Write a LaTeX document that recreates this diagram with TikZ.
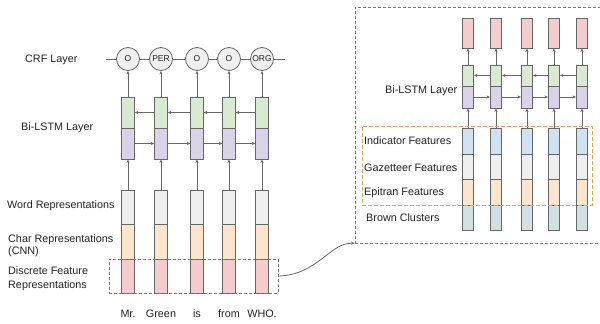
\documentclass[tikz,border=0pt]{standalone}
\usepackage{fontspec}
\setmainfont{Liberation Sans}
\usetikzlibrary{arrows.meta}
\definecolor{cgreen}{HTML}{D9EAD3}
\definecolor{cpurple}{HTML}{D9D2E9}
\definecolor{cgray}{HTML}{EFEFEF}
\definecolor{corange}{HTML}{FCE5CD}
\definecolor{cpink}{HTML}{F4CCCC}
\definecolor{cblue}{HTML}{CFE2F3}
\definecolor{cteal}{HTML}{D0E0E3}
\definecolor{cborder}{HTML}{666666}
\definecolor{carrow}{HTML}{666666}
\definecolor{cdash}{HTML}{777777}
\definecolor{cdasho}{HTML}{F0A050}
\definecolor{ctext}{HTML}{222222}
\begin{document}
\begin{tikzpicture}[x=1pt,y=-1pt,
  cell/.style={draw=cborder, line width=0.9pt, minimum width=12.5pt, minimum height=#1, inner sep=0pt, anchor=center},
  rcell/.style={draw=cborder, line width=0.9pt, minimum width=11pt, minimum height=#1, inner sep=0pt, anchor=center},
  lbl/.style={font=\fontsize{10.8}{13}\selectfont, inner sep=0pt, anchor=west, text=ctext, align=left},
  word/.style={font=\fontsize{10.8}{13}\selectfont, inner sep=0pt, anchor=base, text=ctext},
  crf/.style={circle, draw=cborder, line width=0.8pt, fill=cgray, minimum size=23pt, inner sep=0pt, font=\fontsize{8.5}{10}\selectfont, text=ctext},
  arr/.style={draw=carrow, line width=0.8pt, -{Stealth[length=3.5pt,width=3pt]}},
  plain/.style={draw=carrow, line width=0.8pt},
  gbox/.style={draw=cdash, line width=0.8pt, dash pattern=on 3pt off 2pt, inner sep=0pt},
  obox/.style={draw=cdasho, line width=0.9pt, dash pattern=on 4pt off 2pt, inner sep=0pt}
]
\useasboundingbox (0,0) rectangle (600,324);

% ---------- left panel ----------
\foreach \x/\t [count=\i] in {128/O,161/PER,197/O,229/O,262/ORG}{
  \node[crf] (o\i) at (\x,59) {\t};
  \node[cell=31pt, fill=cgreen] (g\i) at (\x,112.5) {};
  \node[cell=31pt, fill=cpurple] (p\i) at (\x,143.5) {};
  \node[cell=34pt, fill=cgray] (w\i) at (\x,207) {};
  \node[cell=35pt, fill=corange] (c\i) at (\x,241.5) {};
  \node[cell=34pt, fill=cpink] (d\i) at (\x,276) {};
  \draw[arr] (g\i.north) -- (o\i.south);
  \draw[arr] (w\i.north) -- (p\i.south);
}
\foreach \x/\w [count=\i] in {128/Mr.,161/Green,197/is,229/from,262/WHO.}{
  \node[word] (t\i) at (\x,317.5) {\w};
}
\coordinate (crfL) at (106,59);
\coordinate (crfR) at (285,59);
\draw[plain] (crfL) -- (o1.west);
\draw[plain] (o5.east) -- (crfR);
\foreach \i [evaluate=\i as \j using int(\i+1)] in {1,...,4}{
  \draw[plain] (o\i.east) -- (o\j.west);
  \draw[arr] (g\j.west) -- (g\i.east);
  \draw[arr] (p\i.east) -- (p\j.west);
}

\node[lbl] (lcrf) at (25,60) {CRF Layer};
\node[lbl] (llstm) at (21,128) {Bi-LSTM Layer};
\node[lbl] (lword) at (7,206) {Word Representations};
\node[lbl] (lchar) at (8,245.5) {Char Representations\\[-0.5pt](CNN)};
\node[lbl] (ldisc) at (8,279) {Discrete Feature\\[1pt]Representations};

\node[gbox, minimum width=169pt, minimum height=34pt] (sel) at (193.5,276) {};

% ---------- right panel ----------
\node[gbox, minimum width=255pt, minimum height=236pt] (big) at (482.5,125) {};

\foreach \x [count=\i] in {468,496,527,554,582}{
  \node[rcell=30pt, fill=cpink] (rp\i) at (\x,33) {};
  \node[rcell=21pt, fill=cgreen] (rg\i) at (\x,75.5) {};
  \node[rcell=22pt, fill=cpurple] (ru\i) at (\x,97) {};
  \node[rcell=26pt, fill=cblue] (ri\i) at (\x,141) {};
  \node[rcell=25pt, fill=cgray] (rz\i) at (\x,166.5) {};
  \node[rcell=26pt, fill=corange] (re\i) at (\x,192) {};
  \node[rcell=25pt, fill=cteal] (rb\i) at (\x,217.5) {};
  \draw[arr] (rg\i.north) -- (rp\i.south);
  \draw[arr] (ri\i.north) -- (ru\i.south);
}
\foreach \i [evaluate=\i as \j using int(\i+1)] in {1,...,4}{
  \draw[arr] (rg\j.west) -- (rg\i.east);
  \draw[arr] (ru\i.east) -- (ru\j.west);
}

\node[obox, minimum width=230pt, minimum height=79pt] (feat) at (477,165.5) {};

\node[lbl] (rlstm) at (385,91) {Bi-LSTM Layer};
\node[lbl] (rind) at (364,141) {Indicator Features};
\node[lbl] (rgaz) at (364,168) {Gazetteer Features};
\node[lbl] (repi) at (364,193) {Epitran Features};
\node[lbl] (rbro) at (366,218) {Brown Clusters};

% ---------- connector ----------
\draw[arr] (sel.east) .. controls (318,275) and (330,242) .. (big.south west);
\end{tikzpicture}
\end{document}
